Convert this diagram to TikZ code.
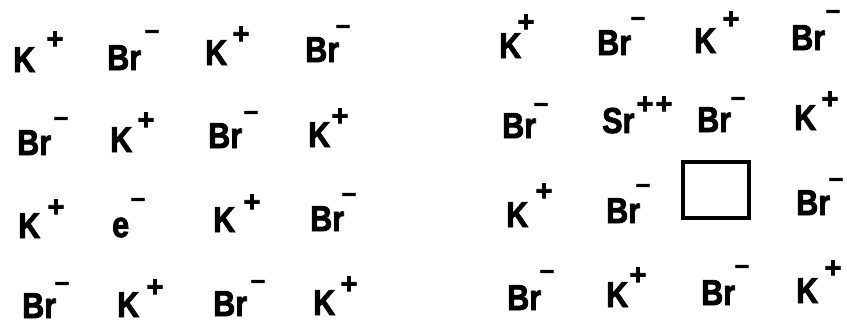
\documentclass[tikz,border=0pt]{standalone}
\usepackage{fontspec}
\setmainfont{Liberation Sans}
\newfontfamily\heavyfont{Liberation Sans}[UprightFont={* Bold}, FakeBold=2.5]
\tikzset{
  ion/.style={font=\fontsize{36}{36}\selectfont\heavyfont, inner sep=0pt, anchor=base west, xscale=0.85},
  plus/.style={font=\fontsize{29}{29}\selectfont\heavyfont, inner sep=0pt, anchor=center},
  minus/.style={font=\fontsize{25}{25}\selectfont\heavyfont, inner sep=0pt, anchor=center},
  vacancy/.style={draw, line width=4.5pt, inner sep=0pt, minimum width=66pt, minimum height=56pt}
}
\begin{document}
\begin{tikzpicture}[x=1pt,y=-1pt]
\useasboundingbox (0,0) rectangle (847,325);
% ---------- left crystal ----------
% row 1
\node[ion] (a11) at (13,72) {K};   \node[plus]  (a11c) at (55,40) {+};
\node[ion] (a12) at (107,70) {Br}; \node[minus] (a12c) at (152,35) {−};
\node[ion] (a13) at (205,65) {K};  \node[plus]  (a13c) at (241,35) {+};
\node[ion] (a14) at (305,62) {Br}; \node[minus] (a14c) at (343,30) {−};
% row 2
\node[ion] (a21) at (17,155) {Br}; \node[minus] (a21c) at (61,122) {−};
\node[ion] (a22) at (110,152) {K}; \node[plus]  (a22c) at (146,121) {+};
\node[ion] (a23) at (208,148) {Br};\node[minus] (a23c) at (251,116) {−};
\node[ion] (a24) at (308,147) {K}; \node[plus]  (a24c) at (340,117) {+};
% row 3
\node[ion] (a31) at (18,238) {K};  \node[plus]  (a31c) at (56,208) {+};
\node[ion] (a32) at (112,237) {e}; \node[minus] (a32c) at (138,203) {−};
\node[ion] (a33) at (213,232) {K}; \node[plus]  (a33c) at (252,203) {+};
\node[ion] (a34) at (310,231) {Br};\node[minus] (a34c) at (349,198) {−};
% row 4
\node[ion] (a41) at (22,318) {Br}; \node[minus] (a41c) at (62,287) {−};
\node[ion] (a42) at (117,317) {K}; \node[plus]  (a42c) at (155,288) {+};
\node[ion] (a43) at (213,316) {Br};\node[minus] (a43c) at (258,285) {−};
\node[ion] (a44) at (313,315) {K}; \node[plus]  (a44c) at (349,285) {+};
% ---------- right crystal ----------
% row 1
\node[ion] (b11) at (499,58) {K};  \node[plus]  (b11c) at (526,23) {+};
\node[ion] (b12) at (597,55) {Br}; \node[minus] (b12c) at (638,22) {−};
\node[ion] (b13) at (694,53) {K};  \node[plus]  (b13c) at (731,20) {+};
\node[ion] (b14) at (791,50) {Br}; \node[minus] (b14c) at (833,15) {−};
% row 2
\node[ion] (b21) at (502,138) {Br};\node[minus] (b21c) at (541,108) {−};
\node[ion] (b22) at (602,133) {Sr};\node[plus]  (b22c) at (645,105) {+};
                                    \node[plus]  (b22d) at (664,105) {+};
\node[ion] (b23) at (697,132) {Br};\node[minus] (b23c) at (738,102) {−};
\node[ion] (b24) at (794,130) {K}; \node[plus]  (b24c) at (830,100) {+};
% row 3
\node[ion] (b31) at (506,227) {K}; \node[plus]  (b31c) at (544,192) {+};
\node[ion] (b32) at (606,223) {Br};\node[minus] (b32c) at (643,189) {−};
\node[vacancy] (b33) at (716,190) {};
\node[ion] (b34) at (796,215) {Br};\node[minus] (b34c) at (836,183) {−};
% row 4
\node[ion] (b41) at (507,310) {Br};\node[minus] (b41c) at (547,275) {−};
\node[ion] (b42) at (606,307) {K}; \node[plus]  (b42c) at (638,276) {+};
\node[ion] (b43) at (701,305) {Br};\node[minus] (b43c) at (742,270) {−};
\node[ion] (b44) at (796,303) {K}; \node[plus]  (b44c) at (833,269) {+};
\end{tikzpicture}
\end{document}
